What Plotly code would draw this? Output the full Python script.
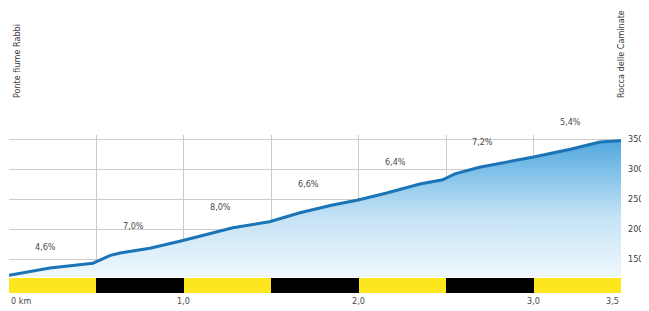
import plotly.graph_objects as go

# Elevation profile (km, m)
dist_km = [0.0, 0.234, 0.48, 0.58, 0.635, 0.806, 0.983, 1.19, 1.28, 1.49, 1.664, 1.85, 1.99,
           2.16, 2.35, 2.48, 2.55, 2.69, 3.0, 3.21, 3.38, 3.49, 3.5]
elev_m = [123, 135, 143, 156, 160, 168, 180, 195, 202, 212, 227, 240, 248,
          260, 275, 282, 292, 303, 320, 333, 345, 347, 347]

# Gradient labels per 0.5 km segment
seg_mid_km = [0.25, 0.75, 1.25, 1.75, 2.25, 2.75, 3.25]
seg_grade = ["4,6%", "7,0%", "8,0%", "6,6%", "6,4%", "7,2%", "5,4%"]
seg_label_m = [158, 205, 237, 287, 323, 357, 390]
seg_colors = ["#fde61e", "#000000", "#fde61e", "#000000", "#fde61e", "#000000", "#fde61e"]

# Axis labels
y_ticks = [150, 200, 250, 300, 350]
x_tick_vals = [0, 1.0, 2.0, 3.0, 3.5]
x_tick_text = ["0 km", "1,0", "2,0", "3,0", "3,5"]

# Place names
places = ["Ponte fiume Rabbi", "Rocca delle Caminate"]
place_km = [0.046, 3.5]

FONT = "DejaVu Sans Condensed, Liberation Sans Narrow, Liberation Sans, sans-serif"

# page is offset by the 8px body margin
OFF = 8
W, H = 649, 311
PLOT_L, PLOT_R, PLOT_T, PLOT_B = 9, 621, 135, 293
ML = PLOT_L - OFF
MT = PLOT_T - OFF
MR = (W + OFF) - PLOT_R
MB = (H + OFF) - PLOT_B
PH = PLOT_B - PLOT_T

Y_RANGE = [120, 356.7]
Y_DOM0 = 16 / PH


def y_to_paper(v):
    return Y_DOM0 + (v - Y_RANGE[0]) / (Y_RANGE[1] - Y_RANGE[0]) * (1 - Y_DOM0)


fig = go.Figure()

fig.add_trace(go.Scatter(
    x=dist_km, y=elev_m, mode="lines",
    line=dict(color="#1b74b6", width=3),
    fill="tozeroy",
    fillgradient=dict(type="vertical", start=120, stop=350,
                      colorscale=[[0, "#f0f8fd"], [0.45, "#c2e2f5"], [1, "#4fa7de"]]),
    hoverinfo="skip", showlegend=False, yaxis="y",
))

fig.add_trace(go.Bar(
    x=seg_mid_km, y=[1] * len(seg_mid_km), width=0.5,
    marker=dict(color=seg_colors, line=dict(width=0)),
    yaxis="y2", showlegend=False, hoverinfo="skip",
))

for xm, txt, ym in zip(seg_mid_km, seg_grade, seg_label_m):
    fig.add_annotation(x=xm, y=y_to_paper(ym), xref="x", yref="paper", text=txt, showarrow=False,
                       xshift=-7, font=dict(family=FONT, size=9, color="#4a4a4a"))

for xv, txt in zip(x_tick_vals, x_tick_text):
    anchor = "left" if xv == 0 else ("right" if xv == 3.5 else "center")
    fig.add_annotation(x=xv, y=0, xref="x", yref="paper", yanchor="top", xanchor=anchor,
                       text=txt, showarrow=False, yshift=-1,
                       font=dict(family=FONT, size=9, color="#4a4a4a"))

for name, xk in zip(places, place_km):
    fig.add_annotation(x=xk, y=(PLOT_B - 100) / PH, xref="x", yref="paper",
                       yanchor="bottom", xanchor="center", textangle=-90,
                       text=name, showarrow=False,
                       font=dict(family=FONT, size=9, color="#3a3a3a"))

fig.update_layout(
    width=W, height=H, autosize=False,
    margin=dict(l=ML, r=MR, t=MT, b=MB),
    paper_bgcolor="white", plot_bgcolor="white",
    bargap=0,
    xaxis=dict(range=[0, 3.5], tickvals=[0.5, 1.0, 1.5, 2.0, 2.5, 3.0], showticklabels=False,
               showgrid=True, gridcolor="#cccccc", gridwidth=1, zeroline=False, showline=False,
               ticks=""),
    yaxis=dict(domain=[Y_DOM0, 1], range=Y_RANGE, side="right", tickvals=y_ticks,
               ticksuffix=" m", showgrid=True, gridcolor="#cccccc", gridwidth=1,
               zeroline=False, showline=False, ticks="", ticklabelstandoff=6,
               tickfont=dict(family=FONT, size=9, color="#3a3a3a"), automargin=False),
    yaxis2=dict(domain=[0, 15 / PH], range=[0, 1], showticklabels=False, showgrid=False,
                zeroline=False, anchor="x"),
)

fig.write_html("out.html")
